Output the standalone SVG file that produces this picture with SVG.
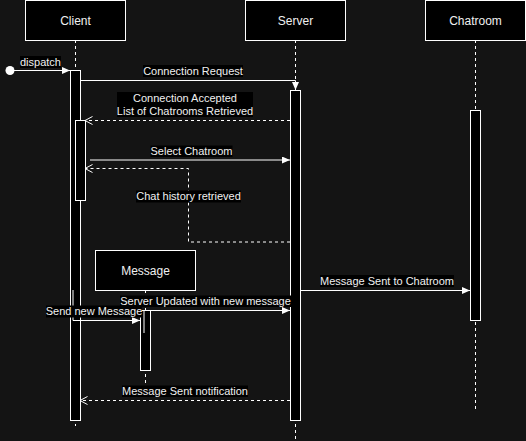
<svg xmlns="http://www.w3.org/2000/svg" width="526" height="441" viewBox="0 0 526 441">
<style>
.bg{fill:#141414}
.box{fill:#000;stroke:#fff;stroke-width:1}
.title{font-family:"Liberation Sans",Arial,sans-serif;font-size:12px;fill:#f0f0f0;text-anchor:middle}
.life{stroke:#fff;stroke-width:1;stroke-dasharray:3,3;fill:none}
.act{fill:#000;stroke:#fff;stroke-width:1}
.msg{stroke:#fff;stroke-width:1;fill:none}
.ret{stroke:#fff;stroke-width:1;fill:none;stroke-dasharray:3,3}
.lbg{fill:#000}
.lbl{font-family:"Liberation Sans",Arial,sans-serif;font-size:11px;fill:#f0f0f0;text-anchor:middle}
</style>
<defs>
<marker id="block" markerUnits="userSpaceOnUse" markerWidth="9" markerHeight="8" refX="8" refY="3.5" orient="auto">
<path d="M0,0 L8,3.5 L0,7 z" fill="#fff"/>
</marker>
<marker id="open" markerUnits="userSpaceOnUse" markerWidth="10" markerHeight="10" refX="8" refY="4.5" orient="auto">
<path d="M0.5,0.5 L8,4.5 L0.5,8.5" fill="none" stroke="#fff" stroke-width="1"/>
</marker>
</defs>
<rect class="bg" x="0" y="0" width="526" height="441"/>

<g id="lifelines">
<line class="life" x1="75.5" y1="40" x2="75.5" y2="426"/>
<line class="life" x1="295.5" y1="40" x2="295.5" y2="441"/>
<line class="life" x1="475.5" y1="40" x2="475.5" y2="410"/>
<line class="life" x1="145.5" y1="290" x2="145.5" y2="383"/>
</g>

<g id="client">
<rect class="box" x="25.5" y="0.5" width="100" height="40"/>
<text class="title" x="75.5" y="24.5">Client</text>
<rect class="act" x="70.5" y="70.5" width="10" height="350"/>
<rect class="act" x="75.5" y="120.5" width="10" height="80"/>
</g>

<g id="server">
<rect class="box" x="245.5" y="0.5" width="100" height="40"/>
<text class="title" x="295.5" y="24.5">Server</text>
<rect class="act" x="290.5" y="90.5" width="10" height="330"/>
</g>

<g id="chatroom">
<rect class="box" x="425.5" y="0.5" width="100" height="40"/>
<text class="title" x="475.5" y="24.5">Chatroom</text>
<rect class="act" x="470.5" y="110.5" width="10" height="210"/>
</g>

<g id="message">
<rect class="box" x="95.5" y="250.5" width="100" height="40"/>
<text class="title" x="145.5" y="274.5">Message</text>
<rect class="act" x="140.5" y="310.5" width="10" height="60"/>
</g>

<g id="connectors">
<circle cx="10" cy="70.5" r="4.5" fill="#fff"/>
<path class="msg" d="M14,70.5 H70" marker-end="url(#block)"/>
<path class="msg" d="M80,80.5 H295.5 V90" marker-end="url(#block)"/>
<path class="ret" d="M290,120.5 H85" marker-end="url(#open)"/>
<path class="msg" d="M90,160 H290" marker-end="url(#block)"/>
<path class="ret" d="M290,242 H188.5 V168.5 H85" marker-end="url(#open)"/>
<path class="msg" d="M73,290 V320.5 H140" marker-end="url(#block)"/>
<path class="msg" d="M144,333 V310.5 H290" marker-end="url(#block)"/>
<path class="msg" d="M300,290.5 H470" marker-end="url(#block)"/>
<path class="ret" d="M290,400.5 H80" marker-end="url(#open)"/>
</g>

<g id="labels">
<rect class="lbg" x="20" y="56" width="41" height="12"/>
<text class="lbl" x="40.5" y="65.5">dispatch</text>
<rect class="lbg" x="143" y="65" width="100" height="12"/>
<text class="lbl" x="193" y="75">Connection Request</text>
<rect class="lbg" x="117" y="92" width="136" height="25"/>
<text class="lbl" x="185" y="102">Connection Accepted</text>
<text class="lbl" x="185" y="115">List of Chatrooms Retrieved</text>
<rect class="lbg" x="150.5" y="145.5" width="82" height="11.5"/>
<text class="lbl" x="191.5" y="155">Select Chatroom</text>
<rect class="lbg" x="136" y="190.5" width="105" height="12"/>
<text class="lbl" x="188.5" y="200">Chat history retrieved</text>
<rect class="lbg" x="320" y="275" width="134" height="12"/>
<text class="lbl" x="387" y="285">Message Sent to Chatroom</text>
<rect class="lbg" x="120" y="295.5" width="171" height="11.5"/>
<text class="lbl" x="205.5" y="305">Server Updated with new message</text>
<rect class="lbg" x="46" y="305.5" width="96" height="12"/>
<text class="lbl" x="94" y="315">Send new Message</text>
<rect class="lbg" x="122" y="385.5" width="126" height="11.5"/>
<text class="lbl" x="185" y="395">Message Sent notification</text>
</g>
</svg>
